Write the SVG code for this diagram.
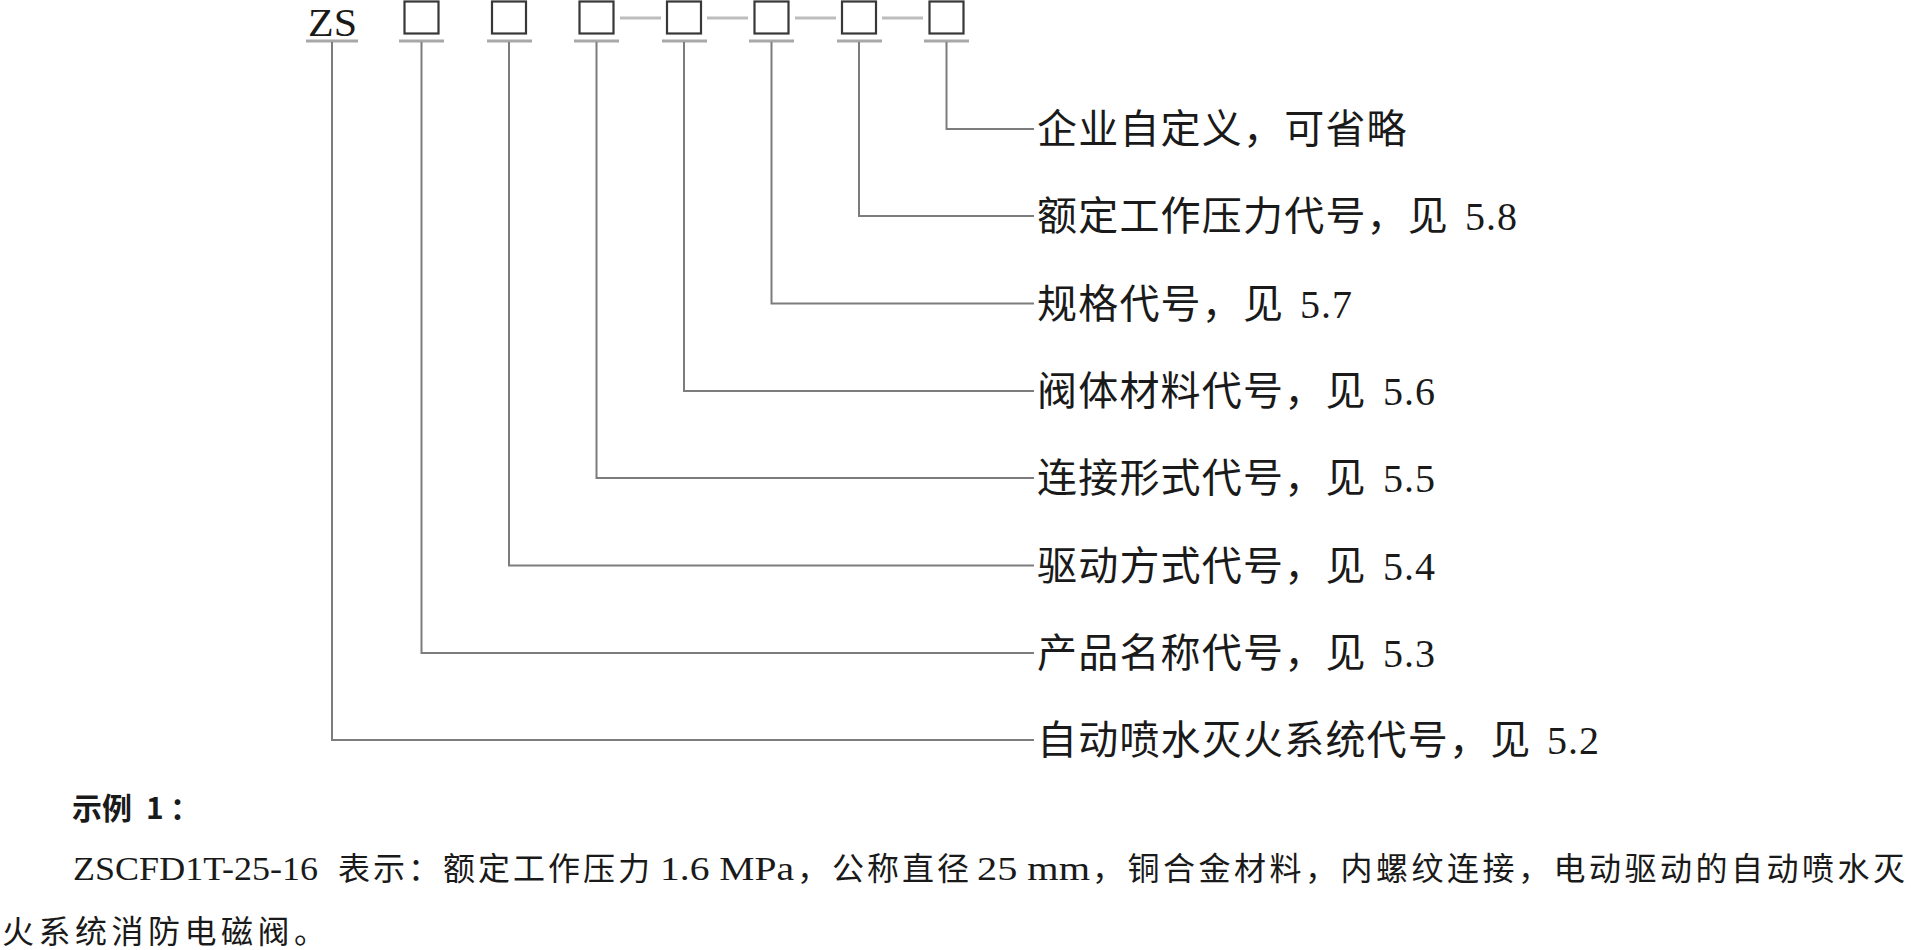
<svg xmlns="http://www.w3.org/2000/svg" width="1911" height="950" viewBox="0 0 1911 950">
<style>
.bg{fill:#fff}
.box{fill:#fff;stroke:#383838;stroke-width:2.2}
.ul{stroke:#a8a8a8;stroke-width:3;fill:none}
.dash{stroke:#bdbdbd;stroke-width:3.2;fill:none}
.conn{stroke:#7c7c7c;stroke-width:2;fill:none}
.zs{font-family:"Liberation Serif",serif;font-size:40px;fill:#1a1a1a}
.lbl{font-family:"Noto Sans CJK SC",sans-serif;font-size:40px;letter-spacing:1.2px;fill:#1a1a1a}
.num{font-family:"Liberation Serif",serif;font-size:40px;letter-spacing:1px;fill:#1a1a1a}
.hd{font-family:"Noto Sans CJK SC",sans-serif;font-size:30px;font-weight:bold;letter-spacing:0px;fill:#1a1a1a}
.p{font-family:"Noto Sans CJK SC",sans-serif;font-size:32px;letter-spacing:3.5px;fill:#1a1a1a}
.pl{font-family:"Liberation Serif",serif;font-size:34px;letter-spacing:0;fill:#1a1a1a}
</style>
<rect class="bg" x="0" y="0" width="1911" height="950"/>

<g id="code-zs">
<text class="zs" x="308" y="35.5" textLength="49" lengthAdjust="spacingAndGlyphs">ZS</text>
<line class="ul" x1="306" y1="41" x2="358" y2="41"/>
</g>
<g id="code-box1">
<rect class="box" x="404.5" y="1.5" width="34" height="32"/>
<line class="ul" x1="399" y1="41" x2="444" y2="41"/>
</g>
<g id="code-box2">
<rect class="box" x="492" y="1.5" width="34" height="32"/>
<line class="ul" x1="487" y1="41" x2="532" y2="41"/>
</g>
<g id="code-box3">
<rect class="box" x="579.5" y="1.5" width="34" height="32"/>
<line class="ul" x1="574" y1="41" x2="619" y2="41"/>
</g>
<g id="code-box4">
<rect class="box" x="667" y="1.5" width="34" height="32"/>
<line class="ul" x1="662" y1="41" x2="707" y2="41"/>
</g>
<g id="code-box5">
<rect class="box" x="754.5" y="1.5" width="34" height="32"/>
<line class="ul" x1="749" y1="41" x2="794" y2="41"/>
</g>
<g id="code-box6">
<rect class="box" x="842" y="1.5" width="34" height="32"/>
<line class="ul" x1="837" y1="41" x2="882" y2="41"/>
</g>
<g id="code-box7">
<rect class="box" x="929.5" y="1.5" width="34" height="32"/>
<line class="ul" x1="924" y1="41" x2="969" y2="41"/>
</g>

<g id="separators">
<line class="dash" x1="620" y1="18" x2="661" y2="18"/>
<line class="dash" x1="707" y1="18" x2="748" y2="18"/>
<line class="dash" x1="795" y1="18" x2="836" y2="18"/>
<line class="dash" x1="882" y1="18" x2="923" y2="18"/>
</g>

<g id="connectors">
<polyline class="conn" points="332,42 332,740 1034,740"/>
<polyline class="conn" points="421.5,42 421.5,653 1034,653"/>
<polyline class="conn" points="509,42 509,565.5 1034,565.5"/>
<polyline class="conn" points="596.5,42 596.5,478 1034,478"/>
<polyline class="conn" points="684,42 684,391 1034,391"/>
<polyline class="conn" points="771.5,42 771.5,303.5 1034,303.5"/>
<polyline class="conn" points="859,42 859,216 1034,216"/>
<polyline class="conn" points="946.5,42 946.5,129 1034,129"/>
</g>

<g id="label-1"><text class="lbl" x="1037" y="143">企业自定义，可省略</text></g>
<g id="label-2"><text class="lbl" x="1037" y="230">额定工作压力代号，见<tspan class="num" x="1465">5.8</tspan></text></g>
<g id="label-3"><text class="lbl" x="1037" y="317.5">规格代号，见<tspan class="num" x="1300">5.7</tspan></text></g>
<g id="label-4"><text class="lbl" x="1037" y="405">阀体材料代号，见<tspan class="num" x="1383">5.6</tspan></text></g>
<g id="label-5"><text class="lbl" x="1037" y="492">连接形式代号，见<tspan class="num" x="1383">5.5</tspan></text></g>
<g id="label-6"><text class="lbl" x="1037" y="579.5">驱动方式代号，见<tspan class="num" x="1383">5.4</tspan></text></g>
<g id="label-7"><text class="lbl" x="1037" y="667">产品名称代号，见<tspan class="num" x="1383">5.3</tspan></text></g>
<g id="label-8"><text class="lbl" x="1037" y="754">自动喷水灭火系统代号，见<tspan class="num" x="1547">5.2</tspan></text></g>

<g id="example">
<text class="hd" y="819"><tspan x="72">示例</tspan><tspan x="146">1</tspan><tspan x="170">：</tspan></text>
<text class="p" y="880"><tspan class="pl" x="73" textLength="245" lengthAdjust="spacingAndGlyphs">ZSCFD1T-25-16</tspan><tspan x="338" style="letter-spacing:3px">表示：额定工作压力</tspan><tspan class="pl" x="660" textLength="134" lengthAdjust="spacingAndGlyphs">1.6 MPa</tspan><tspan x="797" style="letter-spacing:3px">，公称直径</tspan><tspan class="pl" x="977" textLength="113" lengthAdjust="spacingAndGlyphs">25 mm</tspan><tspan x="1092">，铜合金材料，内螺纹连接，电动驱动的自动喷水灭</tspan></text>
<text class="p" x="2" y="943" style="letter-spacing:4.5px">火系统消防电磁阀。</text>
</g>
</svg>
